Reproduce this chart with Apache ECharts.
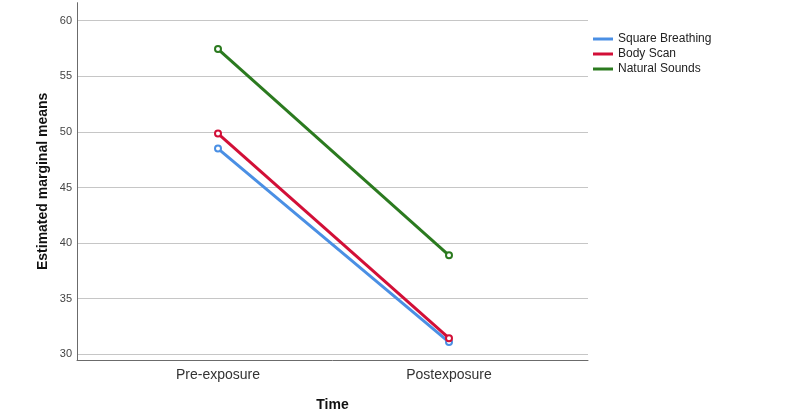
<!DOCTYPE html>
<html>
<head>
<meta charset="utf-8">
<script src="https://cdn.jsdelivr.net/npm/echarts@6/dist/echarts.min.js"></script>
<style>html,body{margin:0;padding:0;background:#fff}#c{width:800px;height:413px}</style>
</head>
<body>
<div id="c"></div>
<script>
const categories = ['Pre-exposure', 'Postexposure'];
const seriesNames = ['Square Breathing', 'Body Scan', 'Natural Sounds'];
const squareBreathing = [48.5, 31.1];
const bodyScan = [49.85, 31.45];
const naturalSounds = [57.45, 38.9];
const yTicks = [30, 35, 40, 45, 50, 55, 60];
const colors = ['#4a8fe4', '#d20f37', '#2b7a1f'];
const values = [squareBreathing, bodyScan, naturalSounds];

const chart = echarts.init(document.getElementById('c'));
const font = 'Liberation Sans, Arial, sans-serif';
chart.setOption({
  backgroundColor: '#ffffff',
  animation: false,
  textStyle: { fontFamily: font },
  legend: {
    orient: 'vertical', left: 593, top: 33, itemGap: 3, padding: 0,
    itemWidth: 20, itemHeight: 3, icon: 'rect',
    textStyle: { fontSize: 12, color: '#222', fontFamily: font },
    data: seriesNames
  },
  grid: [
    { left: 77, right: 212, top: 20.7, bottom: 58.7, outerBoundsMode: 'none', containLabel: false },
    { left: 77, right: 212, top: 2.7, bottom: 53, outerBoundsMode: 'none', containLabel: false },
    { left: 218, width: 231, top: 20.7, bottom: 58.7, outerBoundsMode: 'none', containLabel: false }
  ],
  xAxis: [
    { gridIndex: 0, type: 'value', show: false, min: 0, max: 1 },
    { gridIndex: 1, type: 'value', min: 0, max: 1,
      axisLine: { show: true, onZero: false, lineStyle: { color: '#6b6b6b', width: 1 } },
      axisTick: { show: false }, axisLabel: { show: false }, splitLine: { show: false },
      name: 'Time', nameLocation: 'middle', nameGap: 38,
      nameTextStyle: { fontSize: 14, fontWeight: 'bold', color: '#111', fontFamily: font } },
    { gridIndex: 2, type: 'category', boundaryGap: false, data: categories,
      axisLine: { show: false }, axisTick: { show: false }, splitLine: { show: false },
      axisLabel: { margin: 14, fontSize: 14, color: '#333', fontFamily: font } }
  ],
  yAxis: [
    { gridIndex: 0, type: 'value', min: yTicks[0], max: yTicks[yTicks.length-1], interval: 5,
      axisLine: { show: false }, axisTick: { show: false },
      axisLabel: { fontSize: 11, color: '#444', margin: 5, fontFamily: font },
      splitLine: { show: true, lineStyle: { color: '#c6c6c6', width: 1 } } },
    { gridIndex: 1, type: 'value', min: 0, max: 1,
      axisLine: { show: true, onZero: false, lineStyle: { color: '#6b6b6b', width: 1 } },
      axisTick: { show: false }, axisLabel: { show: false }, splitLine: { show: false },
      name: 'Estimated marginal means', nameLocation: 'middle', nameGap: 27,
      nameTextStyle: { fontSize: 14, fontWeight: 'bold', color: '#111', fontFamily: font } },
    { gridIndex: 2, type: 'value', min: yTicks[0], max: yTicks[yTicks.length-1], show: false }
  ],
  series: seriesNames.map((n, i) => ({
    name: n, type: 'line', xAxisIndex: 2, yAxisIndex: 2,
    data: values[i],
    color: colors[i],
    lineStyle: { width: 3, color: colors[i] },
    symbol: 'emptyCircle', symbolSize: 6,
    itemStyle: { color: colors[i], borderWidth: 1 },
    z: 3 + i
  }))
});
</script>
</body>
</html>
